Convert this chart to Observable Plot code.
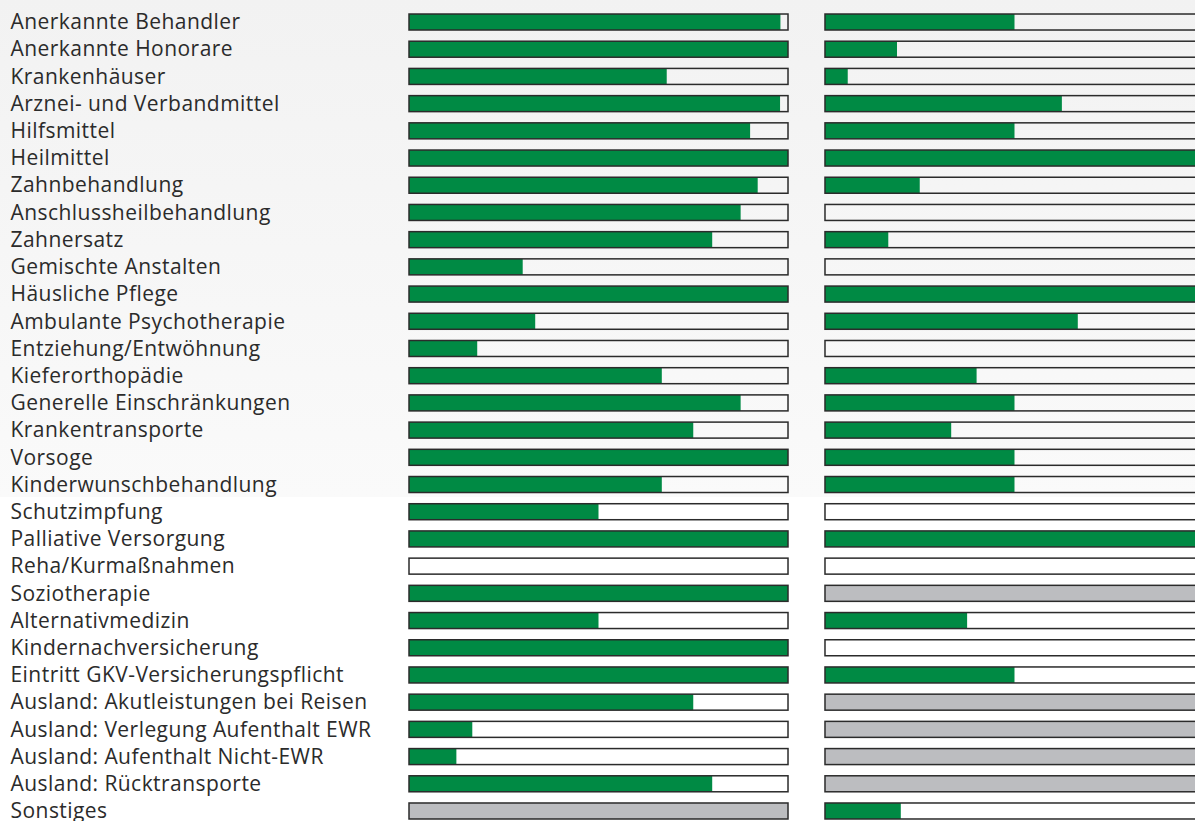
<!DOCTYPE html>
<html><head><meta charset="utf-8">
<script src="https://cdn.jsdelivr.net/npm/d3@7"></script>
<script src="https://cdn.jsdelivr.net/npm/@observablehq/plot@0.6"></script>
<style>
html,body{margin:0;padding:0;overflow:hidden;}
body{width:1195px;height:821px;background:linear-gradient(to bottom,#f2f2f2 0px,#fafafa 497px,#ffffff 497px,#ffffff 821px);}
#chart svg{display:block;max-width:none !important;}
</style></head><body><div id="chart"></div>
<script>
const categories = [
  "Anerkannte Behandler","Anerkannte Honorare","Krankenhäuser","Arznei- und Verbandmittel","Hilfsmittel",
  "Heilmittel","Zahnbehandlung","Anschlussheilbehandlung","Zahnersatz","Gemischte Anstalten",
  "Häusliche Pflege","Ambulante Psychotherapie","Entziehung/Entwöhnung","Kieferorthopädie","Generelle Einschränkungen",
  "Krankentransporte","Vorsoge","Kinderwunschbehandlung","Schutzimpfung","Palliative Versorgung",
  "Reha/Kurmaßnahmen","Soziotherapie","Alternativmedizin","Kindernachversicherung","Eintritt GKV-Versicherungspflicht",
  "Ausland: Akutleistungen bei Reisen","Ausland: Verlegung Aufenthalt EWR","Ausland: Aufenthalt Nicht-EWR","Ausland: Rücktransporte","Sonstiges"
];
const columns = ["Spalte 1","Spalte 2"];
// share of the criterion met (0..1); null = not applicable (grey)
const valuesColumn1 = [0.98,1,0.68,0.979,0.90,1,0.92,0.875,0.80,0.30,1,0.333,0.18,0.667,0.875,0.75,1,0.667,0.50,1,0,1,0.50,1,1,0.75,0.167,0.125,0.80,null];
const valuesColumn2 = [0.50,0.19,0.06,0.625,0.50,1,0.25,0,0.167,0,1,0.667,0,0.40,0.50,0.333,0.50,0.50,0,1,0,null,0.375,0,0.50,null,null,null,null,0.20];

const rows = [];
categories.forEach((c, i) => {
  rows.push({category: c, column: columns[0], value: valuesColumn1[i]});
  rows.push({category: c, column: columns[1], value: valuesColumn2[i]});
});
const known = rows.filter(d => d.value !== null);
const missing = rows.filter(d => d.value === null);

const chart = Plot.plot({
  width: 1205, height: 833,
  marginLeft: 409, marginRight: 1, marginTop: 0, marginBottom: 0,
  style: {background: "transparent", fontFamily: "'Open Sans', sans-serif", fontSize: "21px", color: "#2b2b2b", overflow: "visible", maxWidth: "none", letterSpacing: "0.45px"},
  fx: {domain: columns, padding: 0.0889, axis: null, label: null, round: false},
  x: {domain: [0, 1], axis: null},
  y: {domain: categories, paddingInner: 0.412, paddingOuter: 0.515, round: false, label: null},
  marks: [
    Plot.barX(missing, {fx: "column", y: "category", x1: 0, x2: 1, fill: "#bcbdc0"}),
    Plot.barX(known, {fx: "column", y: "category", x1: 0, x2: "value", fill: "#008a44"}),
    Plot.barX(rows, {fx: "column", y: "category", x1: 0, x2: 1, fill: "none", stroke: "#2b2b2b", strokeWidth: 1.5}),
    Plot.axisY({anchor: "left", tickSize: 0, tickPadding: 0, textAnchor: "start", dx: -399, fontSize: 21, fill: "#2b2b2b", label: null})
  ]
});
document.getElementById("chart").appendChild(chart);
</script></body></html>
